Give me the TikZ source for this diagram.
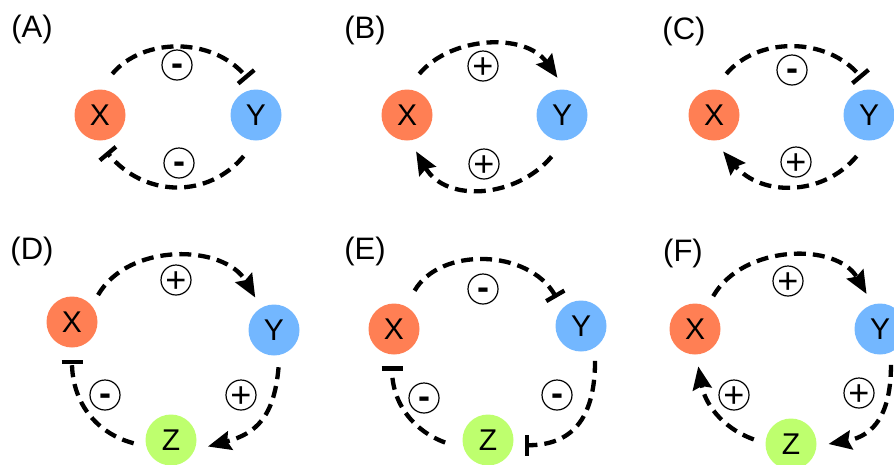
\documentclass[tikz,border=0pt]{standalone}
\usepackage{fontspec}
\setmainfont{Liberation Sans}
\usetikzlibrary{arrows.meta}

\definecolor{xcol}{RGB}{255,127,84}
\definecolor{ycol}{RGB}{115,183,255}
\definecolor{zcol}{RGB}{190,255,110}

% signs centred on their own glyph, not on the baseline
\newcommand{\psign}{\raisebox{-.35em}[0pt][0pt]{+}}
\newcommand{\msign}{\raisebox{-.29em}[0pt][0pt]{\bfseries -}}

\begin{document}
\begin{tikzpicture}[x=1pt,y=1pt,
  gene/.style={circle,minimum size=51pt,inner sep=0pt,outer sep=12pt,font=\fontsize{30}{36}\selectfont},
  sgn/.style={circle,draw,line width=1.2pt,minimum size=30pt,inner sep=0pt,font=\fontsize{36}{40}\selectfont},
  lab/.style={font=\fontsize{31}{36}\selectfont},
  link/.style={line width=4.3pt,dash pattern=on 12pt off 7pt},
  act/.style={link,-{Stealth[length=23pt,width=19pt,inset=3pt]}},
  inh/.style={link,-{Bar[width=21pt]}}
]
\useasboundingbox (0,0) rectangle (894,-464);

% (A) double negative
\node[lab] (labA) at (32,-29) {(A)};
\node[gene,fill=xcol] (xA) at (100,-115) {X};
\node[gene,fill=ycol] (yA) at (256,-115) {Y};
\draw[inh,shorten <=6pt] (xA.77) to[out=50,in=130] (yA.103);
\draw[inh,shorten <=6pt] (yA.257) to[out=-130,in=-50,looseness=1.1] (xA.280);
\node[sgn] (sA1) at (177,-65) {\msign};
\node[sgn] (sA2) at (179,-163) {\msign};

% (B) double positive
\node[lab] (labB) at (365,-30) {(B)};
\node[gene,fill=xcol] (xB) at (407,-115) {X};
\node[gene,fill=ycol] (yB) at (562,-115) {Y};
\draw[act,shorten <=6pt] (xB.77) to[out=50,in=125] (yB.97);
\draw[act,shorten <=6pt] (yB.260) to[out=-130,in=-60,looseness=1.1] (xB.284);
\node[sgn] (sB1) at (483,-66) {\psign};
\node[sgn] (sB2) at (484,-164) {\psign};

% (C) mixed
\node[lab] (labC) at (684,-31) {(C)};
\node[gene,fill=xcol] (xC) at (714,-115) {X};
\node[gene,fill=ycol] (yC) at (869,-115) {Y};
\draw[inh,shorten <=6pt] (xC.77) to[out=50,in=130] (yC.101);
\draw[act,shorten <=6pt] (yC.257) to[out=-130,in=-50,looseness=1.1] (xC.284);
\node[sgn] (sC1) at (792,-70) {\msign};
\node[sgn] (sC2) at (796,-162) {\psign};

% (D) three nodes
\node[lab] (labD) at (32,-251) {(D)};
\node[gene,fill=xcol] (xD) at (72,-322) {X};
\node[gene,fill=ycol] (yD) at (274,-330) {Y};
\node[gene,fill=zcol] (zD) at (171,-440) {Z};
\draw[act] (xD.46) to[out=60,in=120] (yD.120);
\draw[act] (yD.-83) to[out=-95,in=15,looseness=1.2] (zD.-10);
\draw[inh] (zD.185) to[out=165,in=-90] (xD.270);
\node[sgn] (sD1) at (176,-280) {\psign};
\node[sgn] (sD2) at (241,-395) {\psign};
\node[sgn] (sD3) at (105,-395) {\msign};

% (E) three inhibitions
\node[lab] (labE) at (365,-251) {(E)};
\node[gene,fill=xcol] (xE) at (394,-329) {X};
\node[gene,fill=ycol] (yE) at (581,-326) {Y};
\node[gene,fill=zcol] (zE) at (488,-440) {Z};
\draw[inh,shorten <=6pt] (xE.62) to[out=60,in=120] (yE.131);
\draw[inh] (yE.-68) to[out=-90,in=0,looseness=1.2] (zE.-8);
\draw[inh,shorten <=6pt] (zE.187) to[out=160,in=-90] (xE.267);
\node[sgn] (sE1) at (483,-289) {\msign};
\node[sgn] (sE2) at (557,-395) {\msign};
\node[sgn] (sE3) at (424,-398) {\msign};

% (F) three activations
\node[lab] (labF) at (683,-253) {(F)};
\node[gene,fill=xcol] (xF) at (695,-329) {X};
\node[gene,fill=ycol] (yF) at (880,-329) {Y};
\node[gene,fill=zcol] (zF) at (791,-444) {Z};
\draw[act] (xF.61) to[out=60,in=120] (yF.111);
\draw[act] (yF.-73) to[out=-90,in=10,looseness=1.2] (zF.0);
\draw[act] (zF.173) to[out=160,in=-80] (xF.-85);
\node[sgn] (sF1) at (788,-281) {\psign};
\node[sgn] (sF2) at (859,-393) {\psign};
\node[sgn] (sF3) at (734,-395) {\psign};
\end{tikzpicture}
\end{document}
